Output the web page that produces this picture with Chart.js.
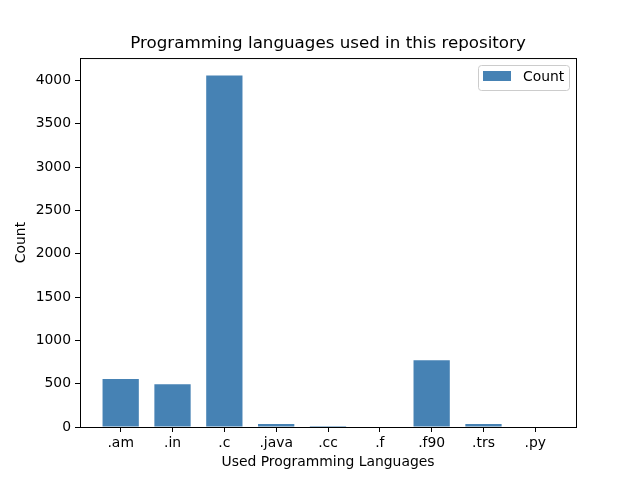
<!DOCTYPE html>
<html>
<head>
<meta charset="utf-8">
<script src="https://cdn.jsdelivr.net/npm/chart.js@4"></script>
<style>
  html, body { margin: 0; padding: 0; background: #fff; }
  canvas { display: block; }
</style>
</head>
<body>
<canvas id="chart" width="640" height="480"></canvas>
<script>
const languages = [".am", ".in", ".c", ".java", ".cc", ".f", ".f90", ".trs", ".py"];
const counts = [553, 495, 4057, 35, 12, 0, 772, 35, 0];
const yTicks = [0, 500, 1000, 1500, 2000, 2500, 3000, 3500, 4000];

const FONT = "'DejaVu Sans', sans-serif";
const BAR_COLOR = "#4682b4";

// matplotlib draws a full box around the axes
const frame = {
  id: "frame",
  afterDatasetsDraw(chart) {
    const { ctx, chartArea: a } = chart;
    ctx.save();
    ctx.strokeStyle = "#000";
    ctx.lineWidth = 1;
    ctx.strokeRect(a.left + 0.5, a.top + 0.5, a.right - a.left, a.bottom - a.top);
    ctx.restore();
  },
};

const legendBox = {
  id: "legendBox",
  afterDraw(chart) {
    const { ctx } = chart;
    const ds = chart.data.datasets[0];
    ctx.save();
    ctx.beginPath();
    ctx.roundRect(478.5, 65.5, 91, 25, 3);
    ctx.fillStyle = "rgba(255,255,255,0.8)";
    ctx.fill();
    ctx.strokeStyle = "#cccccc";
    ctx.lineWidth = 1;
    ctx.stroke();
    ctx.fillStyle = ds.backgroundColor;
    ctx.fillRect(483, 71, 28, 10);
    ctx.fillStyle = "#000";
    ctx.font = "13.9px " + FONT;
    ctx.textBaseline = "middle";
    ctx.fillText(ds.label, 523, 77);
    ctx.restore();
  },
};

const points = languages.map((lang, i) => ({ x: i, y: counts[i] }));

new Chart(document.getElementById("chart"), {
  type: "bar",
  data: {
    datasets: [
      {
        label: "Count",
        data: points,
        backgroundColor: BAR_COLOR,
        borderWidth: 0,
        inflateAmount: 0,
        barPercentage: 0.7,
        categoryPercentage: 1,
      },
    ],
  },
  options: {
    responsive: false,
    animation: false,
    layout: { padding: { left: 0, right: 64, top: 0, bottom: 0 } },
    plugins: {
      legend: { display: false },
      tooltip: { enabled: false },
      title: {
        display: true,
        fullSize: false,
        text: "Programming languages used in this repository",
        color: "#000",
        font: { family: FONT, size: 16.7, weight: "normal", lineHeight: 1.2 },
        padding: { top: 34, bottom: 4 },
      },
    },
    scales: {
      x: {
        type: "linear",
        offset: false,
        min: -0.785,
        max: 8.785,
        afterBuildTicks: (scale) => {
          scale.ticks = languages.map((_, i) => ({ value: i }));
        },
        afterFit: (scale) => {
          scale.height = 53;
        },
        ticks: {
          color: "#000",
          font: { family: FONT, size: 13.9 },
          padding: 3,
          maxRotation: 0,
          autoSkip: false,
          callback: (value) => languages[value],
        },
        grid: {
          offset: false,
          drawOnChartArea: false,
          drawTicks: true,
          tickLength: 5,
          color: "#000",
        },
        border: { display: true, color: "#000" },
        title: {
          display: true,
          text: "Used Programming Languages",
          color: "#000",
          font: { family: FONT, size: 13.9, lineHeight: 1.2 },
          padding: { top: 0, bottom: 9.5 },
        },
      },
      y: {
        min: 0,
        max: 4260,
        afterBuildTicks: (scale) => {
          scale.ticks = yTicks.map((v) => ({ value: v }));
        },
        afterFit: (scale) => {
          scale.width = 80;
        },
        ticks: {
          color: "#000",
          font: { family: FONT, size: 13.9 },
          padding: 4,
          callback: (value) => String(value),
        },
        grid: {
          drawOnChartArea: false,
          drawTicks: true,
          tickLength: 5,
          color: "#000",
        },
        border: { display: true, color: "#000" },
        title: {
          display: true,
          text: "Count",
          color: "#000",
          font: { family: FONT, size: 13.9, lineHeight: 1.2 },
          padding: { top: 13, bottom: 0 },
        },
      },
    },
  },
  plugins: [frame, legendBox],
});
</script>
</body>
</html>
